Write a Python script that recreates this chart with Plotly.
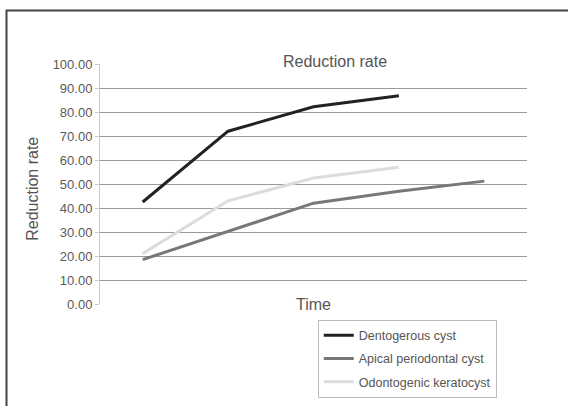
import plotly.graph_objects as go

time_points = [1, 2, 3, 4, 5]
dentigerous = [42.5, 72.0, 82.2, 86.8]
apical = [18.5, 30.2, 42.0, 47.0, 51.2]
keratocyst = [21.0, 43.0, 52.5, 57.0]
y_ticks = [0, 10, 20, 30, 40, 50, 60, 70, 80, 90, 100]
grid_vals = [10, 20, 30, 40, 50, 60, 70, 80, 90]

FONT = "Liberation Sans"

fig = go.Figure()
fig.add_trace(go.Scatter(x=time_points[:len(dentigerous)], y=dentigerous, mode="lines",
                         name="Dentogerous cyst", line=dict(color="#222222", width=3),
                         legendgroup="a"))
fig.add_trace(go.Scatter(x=time_points[:len(apical)], y=apical, mode="lines",
                         name="Apical periodontal cyst", line=dict(color="#787878", width=3),
                         legendgroup="b"))
fig.add_trace(go.Scatter(x=time_points[:len(keratocyst)], y=keratocyst, mode="lines",
                         name="Odontogenic keratocyst", line=dict(color="#dcdcdc", width=3),
                         legendgroup="c"))
# invisible trace to carry labelled axis
fig.add_trace(go.Scatter(x=[time_points[0]], y=[y_ticks[0]], yaxis="y2", mode="markers",
                         marker=dict(opacity=0), showlegend=False, hoverinfo="skip"))

fig.update_layout(
    width=568, height=406,
    margin=dict(l=100, r=41, t=64, b=102, autoexpand=False),
    paper_bgcolor="white", plot_bgcolor="white",
    font=dict(family=FONT, color="#555555", size=12),
    showlegend=True,
    xaxis=dict(range=[0.5, 5.5], showgrid=False, showticklabels=False, zeroline=False,
               showline=False, ticks=""),
    yaxis=dict(range=[0, 100], tickvals=grid_vals, showticklabels=False,
               showgrid=True, gridcolor="#9a9a9a", gridwidth=1, zeroline=False,
               showline=True, linecolor="#c8c8c8", linewidth=1, ticks=""),
    yaxis2=dict(range=[0, 100], overlaying="y", side="left", tickvals=y_ticks,
                tickformat=".2f", showgrid=False, zeroline=False, showline=False,
                ticks="outside", ticklen=4, tickcolor="#c8c8c8",
                tickfont=dict(size=13, color="#5a5a5a", family=FONT)),
    legend=dict(x=0.51, y=-0.065, xanchor="left", yanchor="top",
                bordercolor="#bdbdbd", borderwidth=1, bgcolor="white",
                font=dict(size=12.5, color="#555555", family=FONT),
                tracegroupgap=4, traceorder="grouped"),
    annotations=[
        dict(text="Reduction rate", xref="paper", yref="paper", x=0.55, y=1.0125,
             xanchor="center", yanchor="middle", showarrow=False,
             font=dict(size=16, color="#555555", family=FONT)),
        dict(text="Reduction rate", xref="paper", yref="paper", x=(33 - 100) / 427, y=0.48,
             xanchor="center", yanchor="middle", textangle=-90, showarrow=False,
             font=dict(size=16, color="#555555", family=FONT)),
        dict(text="Time", xref="paper", yref="paper", x=0.5, y=0.0,
             xanchor="center", yanchor="middle", showarrow=False,
             font=dict(size=16, color="#555555", family=FONT)),
    ],
    shapes=[
        dict(type="rect", xref="paper", yref="paper", x0=(6.5 - 100) / 427, x1=1.2,
             y0=-0.5, y1=(304 - 10.5) / 240, line=dict(color="#444444", width=2),
             fillcolor="rgba(0,0,0,0)", layer="below"),
    ],
)

fig.write_html("out.html", config={"displayModeBar": False},
               post_script="document.body.style.margin='0';document.body.style.padding='0';")
